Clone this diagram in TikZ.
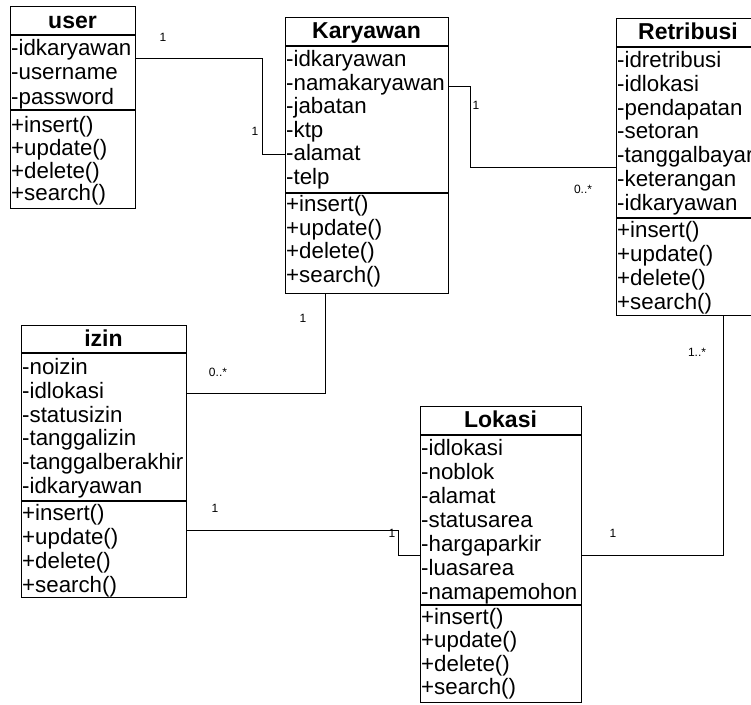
\documentclass[tikz,border=0pt]{standalone}
\usepackage{fontspec}
\setmainfont{Liberation Sans}
\begin{document}
\begin{tikzpicture}[x=1pt,y=-1pt,
  box/.style={draw=black, line width=1.1pt, inner sep=0pt, anchor=north west},
  sep/.style={draw=black, line width=1.1pt},
  ttl/.style={font=\fontsize{23}{23}\selectfont\bfseries, inner sep=0pt, text height=18pt, text depth=5pt},
  row/.style={font=\fontsize{22.3}{22}\selectfont, inner sep=0pt, anchor=west, text height=19pt, text depth=4pt},
  conn/.style={draw=black, line width=0.9pt},
  mult/.style={font=\fontsize{12}{12}\selectfont, inner sep=0pt}]
\useasboundingbox (0,0) rectangle (751,704);
\clip (0,0) rectangle (751,704);

% ---------- user ----------
\node[box, minimum width=125pt, minimum height=202pt] (user) at (10,6) {};
\node[ttl] (user-t) at (72.5,22) {user};
\draw[sep] (user.west |- 0,35) -- (user.east |- 0,35);
\draw[sep] (user.west |- 0,110) -- (user.east |- 0,110);
\foreach \t [count=\i] in {idkaryawan,username,password}
  \node[row] (user-a\i) at (11,{48+24.4*(\i-1)}) {-\t};
\foreach \t [count=\i] in {insert(),update(),delete(),search()}
  \node[row] (user-m\i) at (11,{125+22.8*(\i-1)}) {+\t};

% ---------- Karyawan ----------
\node[box, minimum width=163pt, minimum height=276pt] (kar) at (285,17) {};
\node[ttl] (kar-t) at (366.5,32) {Karyawan};
\draw[sep] (kar.west |- 0,46) -- (kar.east |- 0,46);
\draw[sep] (kar.west |- 0,193) -- (kar.east |- 0,193);
\foreach \t [count=\i] in {idkaryawan,namakaryawan,jabatan,ktp,alamat,telp}
  \node[row] (kar-a\i) at (286,{59+23.6*(\i-1)}) {-\t};
\foreach \t [count=\i] in {insert(),update(),delete(),search()}
  \node[row] (kar-m\i) at (286,{204+23.7*(\i-1)}) {+\t};

% ---------- Retribusi ----------
\node[box, minimum width=144pt, minimum height=297pt] (ret) at (616,18) {};
\node[ttl] (ret-t) at (688,33) {Retribusi};
\draw[sep] (ret.west |- 0,47) -- (ret.east |- 0,47);
\draw[sep] (ret.west |- 0,218) -- (ret.east |- 0,218);
\foreach \t [count=\i] in {idretribusi,idlokasi,pendapatan,setoran,tanggalbayar,keterangan,idkaryawan}
  \node[row] (ret-a\i) at (617,{60+23.8*(\i-1)}) {-\t};
\foreach \t [count=\i] in {insert(),update(),delete(),search()}
  \node[row] (ret-m\i) at (617,{230+24*(\i-1)}) {+\t};

% ---------- izin ----------
\node[box, minimum width=165pt, minimum height=272pt] (izin) at (21,325) {};
\node[ttl] (izin-t) at (103.5,340) {izin};
\draw[sep] (izin.west |- 0,353) -- (izin.east |- 0,353);
\draw[sep] (izin.west |- 0,501) -- (izin.east |- 0,501);
\foreach \t [count=\i] in {noizin,idlokasi,statusizin,tanggalizin,tanggalberakhir,idkaryawan}
  \node[row] (izin-a\i) at (22,{367+23.8*(\i-1)}) {-\t};
\foreach \t [count=\i] in {insert(),update(),delete(),search()}
  \node[row] (izin-m\i) at (22,{513+24*(\i-1)}) {+\t};

% ---------- Lokasi ----------
\node[box, minimum width=161pt, minimum height=296pt] (lok) at (420,406) {};
\node[ttl] (lok-t) at (500.5,421) {Lokasi};
\draw[sep] (lok.west |- 0,435) -- (lok.east |- 0,435);
\draw[sep] (lok.west |- 0,605) -- (lok.east |- 0,605);
\foreach \t [count=\i] in {idlokasi,noblok,alamat,statusarea,hargaparkir,luasarea,namapemohon}
  \node[row] (lok-a\i) at (421,{448+24*(\i-1)}) {-\t};
\foreach \t [count=\i] in {insert(),update(),delete(),search()}
  \node[row] (lok-m\i) at (421,{617+23.3*(\i-1)}) {+\t};

% ---------- connectors ----------
\coordinate (b1a) at (262,58);
\coordinate (b1b) at (262,154);
\draw[conn] (user.east |- b1a) -- (b1a) -- (b1b) -- (kar.west |- b1b);

\coordinate (b2a) at (470,86);
\coordinate (b2b) at (470,167);
\draw[conn] (kar.east |- b2a) -- (b2a) -- (b2b) -- (ret.west |- b2b);

\coordinate (b3) at (325,393);
\draw[conn] (kar.south -| b3) -- (b3) -- (izin.east |- b3);

\coordinate (b4a) at (398,530);
\coordinate (b4b) at (398,555);
\draw[conn] (izin.east |- b4a) -- (b4a) -- (b4b) -- (lok.west |- b4b);

\coordinate (b5) at (723,555);
\draw[conn] (lok.east |- b5) -- (b5) -- (ret.south -| b5);

% ---------- multiplicities ----------
\node[mult] (m1) at (163,37) {1};
\node[mult] (m2) at (255,131) {1};
\node[mult] (m3) at (476,105) {1};
\node[mult] (m4) at (583,189) {0..*};
\node[mult] (m5) at (303,318) {1};
\node[mult] (m6) at (218,372) {0..*};
\node[mult] (m7) at (215,508) {1};
\node[mult] (m8) at (392,533) {1};
\node[mult] (m9) at (613,533) {1};
\node[mult] (m10) at (697,352) {1..*};
\end{tikzpicture}
\end{document}
